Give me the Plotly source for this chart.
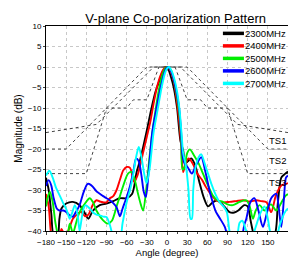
import plotly.graph_objects as go

# ---------------- data ----------------
names = ["2300MHz", "2400MHz", "2500MHz", "2600MHz", "2700MHz"]
colors = ["#000000", "#ff0000", "#00ee00", "#0000ff", "#00ffff"]

ang_2300 = [-180, -176, -172, -169, -163, -160, -157, -150, -140, -130, -122, -117, -110, -100, -90, -80, -70, -60, -52, -45, -40, -30, -23, -17, -11, -6, -2, 2, 6, 10, 15, 20, 24, 27, 31, 36, 42, 48, 55, 61, 68, 75, 85, 93, 100, 106, 115, 120, 125, 130, 140, 150, 160, 165, 170, 176, 180]
db_2300 = [-27, -30, -36, -41, -42, -37, -34.5, -33.3, -32.9, -33.7, -35.7, -37, -35, -33.7, -33.3, -32.7, -32, -32, -31, -25.5, -22.7, -15.5, -10, -6, -3.2, -1, 0, -0.6, -2.5, -5, -10, -18, -20.3, -23.5, -23, -22.3, -24, -28, -32, -34, -33, -32.5, -34, -35.4, -35.5, -35, -33.7, -34, -38, -41, -42, -42, -41, -33, -27, -26, -25.5]

ang_2400 = [-180, -176, -173, -170, -162, -157, -152, -147, -140, -134, -128, -122, -117, -110, -105, -100, -95, -90, -85, -80, -75, -70, -65, -60, -55, -49, -44, -40, -35, -30, -25, -20, -15, -10, -5, 0, 5, 10, 14, 18, 21, 24, 27, 32, 38, 45, 52, 58, 65, 73, 83, 93, 103, 113, 123, 133, 140, 148, 155, 162, 170, 177, 180]
db_2400 = [-31, -34, -40, -43, -43, -39.5, -41, -40, -37, -36, -35.3, -36.4, -36, -33.5, -32.5, -32.8, -33, -33, -32, -31.5, -30, -27.5, -25.2, -24.4, -24.6, -28, -26.5, -24, -20.5, -17, -13.5, -9, -5, -2.2, -0.5, 0, -0.8, -3.5, -7.5, -13, -19, -25.6, -24, -22.3, -23.5, -26, -27.5, -29.3, -31, -32.5, -33, -32.9, -32.7, -32.5, -32.8, -32.5, -32.7, -33, -35.4, -31.3, -28.9, -28.5, -28.3]

ang_2500 = [-180, -177, -174, -170, -166, -162, -155, -148, -144.6, -140, -136, -132, -127, -122, -115, -110, -105, -95, -88, -82, -75, -70, -65, -58, -53, -48, -43, -39, -35.6, -31, -26, -21, -17, -12, -7, -2, 2, 6, 10, 14, 18, 21, 23, 26, 30, 34, 40, 47, 53.5, 60, 68, 75, 83, 90, 98, 108, 118, 123, 127.8, 132, 137.7, 145, 150, 155, 162.5, 172, 177, 180]
db_2500 = [-34, -31.5, -30.5, -33, -38, -41, -43, -41, -38.2, -40.5, -38.5, -36.2, -34.5, -33.3, -32, -33, -35, -37.4, -38.2, -37.5, -34, -31.5, -28.9, -26, -25.6, -27.5, -31, -33.5, -35, -30, -22, -15, -10.5, -5.5, -2, -0.2, 0, -0.8, -3, -6.5, -11, -17, -25, -24.5, -21, -20.1, -21.5, -23.5, -26, -28.5, -31.3, -32.5, -32.9, -33.5, -33.7, -32.9, -32.5, -34, -37, -35, -33.7, -35, -34, -33.5, -35, -32.5, -31.3, -31]

ang_2600 = [-180, -176, -172, -169, -164, -160, -154, -149, -144.6, -140, -136, -130, -124, -118, -113, -110, -105, -100, -95, -90, -85, -80, -75, -70, -66, -60, -55, -50, -46, -42, -38, -34.5, -31.5, -27, -22, -15.5, -10, -5, -1, 2, 6, 10, 14, 18, 21, 23, 26, 31, 37, 43, 51, 57, 63, 68, 73, 79, 86, 90, 100, 110, 115, 118, 124, 130, 136, 142.6, 148, 155, 162.5, 166, 170, 174, 177, 180]
db_2600 = [-29, -27.6, -29, -31.7, -34.5, -35, -35, -35.5, -36.2, -36.5, -35.5, -33.7, -30.5, -28.5, -28.8, -29.3, -30.3, -30.9, -31.5, -32, -32.5, -33.2, -34.2, -36.4, -34.5, -31.7, -29, -25.5, -22.3, -23, -26.5, -30.5, -31.7, -25, -16, -10, -5.5, -2, -0.3, 0, -1, -3, -6, -10, -16, -21.5, -23.5, -24.5, -26, -24, -22, -25.5, -30, -33, -35.4, -37, -39, -41, -43, -42, -38.5, -37, -33, -32, -35, -39, -36, -32, -30.9, -34, -39, -32, -27, -26.5]

ang_2700 = [-180, -175, -170, -165, -162, -155, -149, -144.6, -141, -137, -133, -130, -127, -124, -121, -115, -110, -105, -100, -95, -90, -85, -80, -70, -66, -60, -55, -50, -46, -42, -38, -34, -30.5, -26, -20, -13.5, -8, -3, 0, 3, 7, 11, 15, 19, 22, 24, 28, 32, 35, 37, 39, 43, 47, 51, 56, 61, 66, 72, 78, 84, 89, 93, 97, 103, 108, 112, 118, 125, 132, 138, 145, 150, 155, 162, 167, 172, 177, 180]
db_2700 = [-26.5, -25.3, -27, -29.5, -30.5, -33, -35, -37, -35.5, -33.7, -36, -40, -37, -34.5, -33.7, -34.5, -35.5, -36, -36.2, -36.5, -36.6, -38.5, -41, -41.5, -38, -33, -30, -26, -22, -19.5, -22, -26, -28.4, -25, -16, -10, -5, -1.5, -0.4, 0, -1, -3, -6, -11, -17, -21, -24, -30, -37, -37, -30, -24, -22, -21.3, -23.5, -26, -28.5, -31, -32.9, -34, -35.4, -40, -42, -42, -38, -37.5, -40, -42, -39, -36, -34, -37, -41, -42, -39, -36.6, -35, -34.5]

series_ang = [ang_2300, ang_2400, ang_2500, ang_2600, ang_2700]
series_db = [db_2300, db_2400, db_2500, db_2600, db_2700]

# templates
ts_names = ["TS1", "TS2", "TS3"]
ts1_ang = [-180, -105, -20, 20, 105, 180]
ts1_db = [-16, -14, 0, 0, -14, -16]
ts2_ang = [-180, -150, -30, 30, 150, 180]
ts2_db = [-20, -20, 0, 0, -20, -20]
ts3_ang = [-180, -120, -90, -60, -50, -30, -12, 12, 30, 50, 60, 90, 120, 180]
ts3_db = [-26, -26, -10, -10, -8, -8, 0, 0, -8, -8, -10, -10, -26, -26]
ts_label_y = [-17.9, -22.8, -28.1]

x_ticks = [-180, -150, -120, -90, -60, -30, 0, 30, 60, 90, 120, 150, 180]
y_ticks = [10, 5, 0, -5, -10, -15, -20, -25, -30, -35, -40]

FONT = "Liberation Sans, Arial, sans-serif"

fig = go.Figure()

for a, d in zip([ts1_ang, ts2_ang, ts3_ang], [ts1_db, ts2_db, ts3_db]):
    fig.add_trace(go.Scatter(x=a, y=d, mode="lines", showlegend=False,
                             line=dict(color="#444444", width=1, dash="dot"),
                             hoverinfo="skip"))

for name, col, a, d in zip(names, colors, series_ang, series_db):
    fig.add_trace(go.Scatter(x=a, y=d, mode="lines", name=name, showlegend=False,
                             line=dict(color=col, width=1.9, shape="spline", smoothing=0.8)))

# TS labels
for t, yv in zip(ts_names, ts_label_y):
    fig.add_annotation(x=165, y=yv, text=t, showarrow=False, xref="x", yref="y",
                       font=dict(family=FONT, size=9.5, color="#000000"))

# manual legend (paper coords)
leg_y = [0.964, 0.903, 0.842, 0.781, 0.720]
for name, col, ly in zip(names, colors, leg_y):
    fig.add_shape(type="line", xref="paper", yref="paper", x0=0.731, x1=0.818,
                  y0=ly, y1=ly, line=dict(color=col, width=3.5))
    fig.add_annotation(xref="paper", yref="paper", x=0.812, y=ly, text=name,
                       showarrow=False, xanchor="left", yanchor="middle",
                       font=dict(family=FONT, size=9.5, color="#000000"))

grid = dict(showgrid=True, gridcolor="#c8c8c8", griddash="dot", gridwidth=1)

fig.update_layout(
    width=288, height=266,
    margin=dict(l=46, r=0, t=26, b=35, autoexpand=False),
    paper_bgcolor="white", plot_bgcolor="white",
    showlegend=False,
    title=dict(text="V-plane Co-polarization Pattern", x=0.61, xanchor="center",
               y=0.93, yanchor="middle",
               font=dict(family=FONT, size=13, color="#000000")),
    xaxis=dict(range=[-180, 180], tickvals=x_ticks, ticks="outside", ticklen=3,
               tickangle=0, automargin=False,
               showline=True, linecolor="black", linewidth=1, mirror=True,
               zeroline=False, tickfont=dict(family=FONT, size=8, color="#000000"),
               title=dict(text="Angle (degree)", standoff=2,
                          font=dict(family=FONT, size=9.5, color="#000000")),
               minor=dict(dtick=15, ticks="outside", ticklen=2, tick0=0),
               **grid),
    yaxis=dict(range=[-40, 10], tickvals=y_ticks, ticks="outside", ticklen=2,
               automargin=False,
               showline=True, linecolor="black", linewidth=1, mirror=True,
               zeroline=False, tickfont=dict(family=FONT, size=8, color="#000000"),
               title=dict(text="Magnitude (dB)", standoff=3,
                          font=dict(family=FONT, size=10, color="#000000")),
               **grid),
)

fig.write_html("out.html", config={"displayModeBar": False},
               post_script="document.body.style.margin='0';document.body.style.overflow='hidden';")
